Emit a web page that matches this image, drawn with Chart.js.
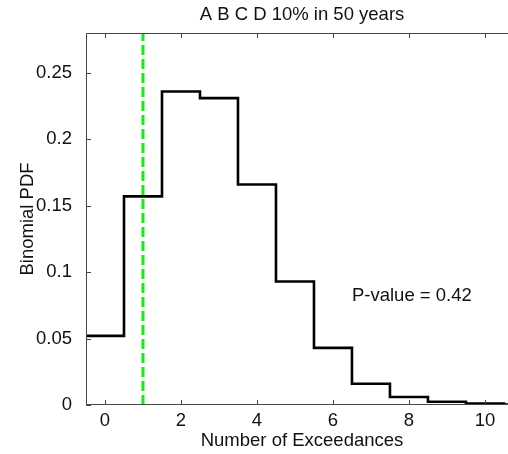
<!DOCTYPE html>
<html>
<head>
<meta charset="utf-8">
<script src="https://cdn.jsdelivr.net/npm/chart.js@4"></script>
<style>
  html, body { margin: 0; padding: 0; background: #fff; overflow: hidden; }
  #wrap { width: 508px; height: 454px; overflow: hidden; }
</style>
</head>
<body>
<div id="wrap"><canvas id="chart" width="520" height="454"></canvas></div>
<script>
// binomial pdf, one value per number of exceedances
const counts = [0, 1, 2, 3, 4, 5, 6, 7, 8, 9, 10, 11];
const pdf = [0.052, 0.157, 0.236, 0.231, 0.166, 0.093, 0.043, 0.016, 0.006, 0.0025, 0.001, 0.0003];
const observed = 1;
const xTicks = [0, 2, 4, 6, 8, 10];
const yTicks = [0, 0.05, 0.1, 0.15, 0.2, 0.25];
const xMin = -0.5, xMax = 10.87, yMax = 0.28;

const titleText = "A B C D 10% in 50 years";
const xLabel = "Number of Exceedances";
const yLabel = "Binomial PDF";
const pText = "P-value = 0.42";

const FONT = "Liberation Sans, Arial, Helvetica, sans-serif";
const TXT = "#111";
const SIZE = 18.5;

// stair edges: each bar runs from k-0.5 to k+0.5
let stairs = counts.map((k, i) => ({ x: k - 0.5, y: pdf[i] }));
stairs.push({ x: counts[counts.length - 1] + 0.5, y: pdf[pdf.length - 1] });

const frame = {
  id: "frame",
  afterDatasetsDraw(chart) {
    const { ctx, chartArea: a, scales } = chart;
    ctx.save();
    ctx.strokeStyle = "#444";
    ctx.lineWidth = 1;
    ctx.beginPath();
    ctx.moveTo(a.left + 0.5, a.top + 0.5);
    ctx.lineTo(a.right - 0.5, a.top + 0.5);
    ctx.lineTo(a.right - 0.5, a.bottom - 0.5);
    ctx.lineTo(a.left + 0.5, a.bottom - 0.5);
    ctx.closePath();
    // inward tick marks
    scales.x.ticks.forEach(t => {
      const px = Math.round(scales.x.getPixelForValue(t.value)) + 0.5;
      ctx.moveTo(px, a.bottom);
      ctx.lineTo(px, a.bottom - 5);
      ctx.moveTo(px, a.top);
      ctx.lineTo(px, a.top + 5);
    });
    scales.y.ticks.forEach(t => {
      const py = Math.round(scales.y.getPixelForValue(t.value)) + 0.5;
      ctx.moveTo(a.left, py);
      ctx.lineTo(a.left + 5, py);
      ctx.moveTo(a.right, py);
      ctx.lineTo(a.right - 5, py);
    });
    ctx.stroke();

    ctx.fillStyle = TXT;
    ctx.font = SIZE + "px " + FONT;
    ctx.textAlign = "center";
    ctx.textBaseline = "middle";
    const cx = (a.left + a.right) / 2;
    ctx.fillText(titleText, cx, 15);
    ctx.fillText(xLabel, cx, 441);
    ctx.textAlign = "left";
    ctx.fillText(pText, scales.x.getPixelForValue(6.5), scales.y.getPixelForValue(0.082));
    ctx.translate(28, (a.top + a.bottom) / 2);
    ctx.rotate(-Math.PI / 2);
    ctx.textAlign = "center";
    ctx.fillText(yLabel, 0, 0);
    ctx.restore();
  }
};

new Chart(document.getElementById("chart"), {
  type: "line",
  data: {
    datasets: [
      {
        data: [{ x: observed, y: 0 }, { x: observed, y: yMax }],
        borderColor: "#11ee11",
        borderWidth: 3,
        borderDash: [10, 4],
        pointRadius: 0,
        order: 0
      },
      {
        data: stairs,
        stepped: "before",
        borderColor: "#000",
        borderWidth: 2.6,
        pointRadius: 0,
        order: 1
      }
    ]
  },
  options: {
    responsive: false,
    devicePixelRatio: 1,
    animation: false,
    layout: { padding: { top: 33, right: 2, left: 0, bottom: 0 } },
    plugins: { legend: { display: false }, tooltip: { enabled: false } },
    scales: {
      x: {
        type: "linear",
        min: xMin,
        max: xMax,
        grid: { display: false },
        border: { display: false },
        afterBuildTicks: s => { s.ticks = xTicks.map(v => ({ value: v })); },
        afterFit: s => { s.height = 49; },
        ticks: { color: TXT, font: { family: FONT, size: SIZE }, padding: -3, maxRotation: 0,
                 callback: v => String(v) }
      },
      y: {
        min: 0,
        max: yMax,
        grid: { display: false },
        border: { display: false },
        afterBuildTicks: s => { s.ticks = yTicks.map(v => ({ value: v })); },
        afterFit: s => { s.width = 86; },
        ticks: { color: TXT, font: { family: FONT, size: SIZE }, padding: 6,
                 callback: v => String(v) }
      }
    }
  },
  plugins: [frame]
});
</script>
</body>
</html>
